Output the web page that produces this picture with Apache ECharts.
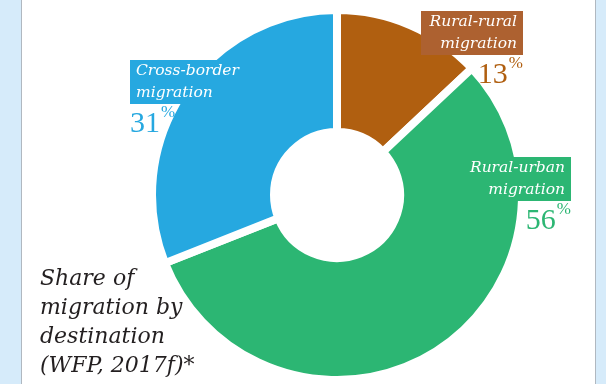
<!DOCTYPE html>
<html>
<head>
<meta charset="utf-8">
<script src="https://cdn.jsdelivr.net/npm/echarts@6/dist/echarts.min.js"></script>
<style>
html,body{margin:0;padding:0;background:#d6ebfa;}
#chart{width:606px;height:384px;}
</style>
</head>
<body>
<div id="chart"></div>
<script>
// Data
const categoryLines = [['Rural-rural', 'migration'], ['Rural-urban', 'migration'], ['Cross-border', 'migration']];
const values = [13, 56, 31];
const titleLines = ['Share of', 'migration by', 'destination', '(WFP, 2017f)*'];

// Styles
const sliceColors = ['#b05f10', '#2cb673', '#26a8e0'];
const boxColors = ['#ad6130', '#2cb673', '#26a8e0'];
const labelAlign = ['right', 'right', 'left'];
const boxWidth = [90, 98, 102];

const chart = echarts.init(document.getElementById('chart'), null, {renderer: 'canvas'});

const serif = '"DejaVu Serif", serif';
const numFont = '"Liberation Serif", "DejaVu Serif", serif';

const data = values.map((v, i) => ({
  value: v,
  name: categoryLines[i].join(' '),
  itemStyle: {color: sliceColors[i]},
  label: {
    formatter: () => categoryLines[i].map(t => '{box|' + t + '}').join('\n') + '\n{num|' + v + '}{pct|%}',
    rich: {
      box: {
        backgroundColor: boxColors[i],
        color: '#ffffff',
        fontFamily: serif,
        fontStyle: 'italic',
        fontSize: 15.5,
        lineHeight: 22,
        height: 22,
        width: boxWidth[i],
        padding: [0, 6],
        align: labelAlign[i]
      },
      num: {
        color: sliceColors[i],
        fontFamily: numFont,
        fontSize: 30,
        lineHeight: 40,
        align: labelAlign[i]
      },
      pct: {
        color: sliceColors[i],
        fontFamily: numFont,
        fontSize: 17,
        lineHeight: 40,
        verticalAlign: 'top',
        padding: [0, 0, 1, 1],
        align: labelAlign[i]
      }
    }
  }
}));

const labelPos = [[523, 11], [571, 157], [130, 60]];

chart.setOption({
  backgroundColor: 'transparent',
  animation: false,
  graphic: [
    {type: 'rect', shape: {x: 21.5, y: -5, width: 574, height: 400}, style: {fill: '#ffffff', stroke: '#b0b8c0', lineWidth: 1}, z: -10}
  ],
  title: {
    text: titleLines.join('\n'),
    left: 35,
    top: 260,
    textStyle: {
      fontFamily: serif,
      fontStyle: 'italic',
      fontWeight: 'normal',
      fontSize: 22,
      lineHeight: 29,
      color: '#231f20'
    }
  },
  series: [{
    type: 'pie',
    center: [337, 195],
    radius: [63, 185],
    startAngle: 90,
    clockwise: true,
    avoidLabelOverlap: false,
    itemStyle: {borderColor: '#ffffff', borderWidth: 8},
    labelLine: {show: false},
    label: {show: true, position: 'outside'},
    labelLayout: function (params) {
      const i = params.dataIndex;
      return {x: labelPos[i][0], y: labelPos[i][1], align: labelAlign[i], verticalAlign: 'top'};
    },
    emphasis: {disabled: true},
    data: data
  }]
});
</script>
</body>
</html>
